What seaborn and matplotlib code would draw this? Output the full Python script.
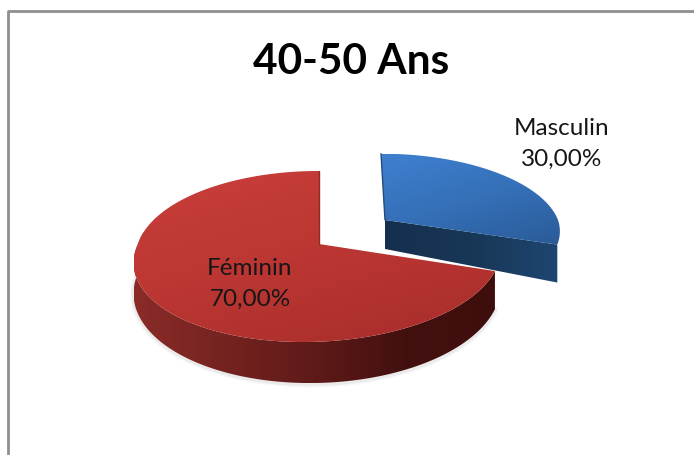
#!/usr/bin/env python3
import numpy as np
import matplotlib
matplotlib.use("Agg")
import matplotlib.pyplot as plt
from matplotlib.patches import Polygon
import seaborn as sns

# --- DATA ---
TITLE = "40-50 Ans"
labels = ["Masculin", "Féminin"]
values = [30.0, 70.0]

# --- LOOK OF THE FAKE 3D PIE (pixel space of the figure) ---
W, H = 694, 455
BLUE = dict(cx=385, cy=220, b=173, a=76, k=0.146, shear_up=0.06, shear_down=0.0,
            d0=29, dy=0.0, dx=0.052)
RED = dict(cx=319, cy=244, b=181, a=83.7, k=0.146, shear_up=0.0, shear_down=-0.16,
           d0=32.4, dy=0.0904, dx=0.0181)
LABEL_POS = [(562, 144), (250, 284)]

sns.set_theme(style="white")
plt.rcParams["font.family"] = ["Lato", "DejaVu Sans"]


def project(geo, t):
    """Pie angle (clockwise from 12 o'clock, radians) to top face pixels."""
    denom = 1 + geo["k"] * np.cos(t)
    dy = -geo["a"] * np.cos(t) / denom
    dx = geo["b"] * np.sin(t) / denom
    dx = dx + np.where(dy < 0, geo["shear_up"] * dy, geo["shear_down"] * dy)
    return geo["cx"] + dx, geo["cy"] + dy


def depth(geo, x, y):
    return geo["d0"] + geo["dy"] * (y - geo["cy"]) + geo["dx"] * (x - geo["cx"])


def gradient_fill(ax, pts, colors, angle, zorder):
    """Fill a polygon with a linear gradient, angle in degrees."""
    patch = Polygon(pts, closed=True, fc="none", ec="none", zorder=zorder)
    ax.add_patch(patch)
    x0, y0 = pts.min(axis=0)
    x1, y1 = pts.max(axis=0)
    gx, gy = np.meshgrid(np.linspace(0, 1, 200), np.linspace(0, 1, 200))
    r = np.radians(angle)
    ramp = gx * np.cos(r) + gy * np.sin(r)
    cmap = sns.blend_palette(colors, as_cmap=True)
    im = ax.imshow(ramp, extent=(x0, x1, y1, y0), origin="upper", cmap=cmap,
                   aspect="auto", zorder=zorder, interpolation="bilinear")
    im.set_clip_path(patch)


def slice_top(geo, t0, t1):
    t = np.linspace(t0, t1, 200)
    x, y = project(geo, t)
    return np.vstack([[geo["cx"], geo["cy"]], np.column_stack([x, y])])


def rim_strip(geo, t0, t1):
    t = np.linspace(t0, t1, 200)
    x, y = project(geo, t)
    top = np.column_stack([x, y])
    low = np.column_stack([x, y + depth(geo, x, y)])
    return top, low


# Slice angles come from the values, starting at 12 o'clock
sweeps = np.cumsum([0.0] + values) / sum(values) * 2 * np.pi
blue_t0, blue_t1 = sweeps[0], sweeps[1]
red_t0, red_t1 = sweeps[1], sweeps[2]

fig, ax = plt.subplots(figsize=(W / 100, H / 100), dpi=100)
fig.subplots_adjust(0, 0, 1, 1)
ax.set_facecolor("white")

# chart frame, open at the bottom and on the right
ax.plot([8, 8, W + 5], [H + 5, 11, 11], color="#8f8f8f", lw=2.0, zorder=1)

# blue slice, behind the red one
end_x, end_y = project(BLUE, blue_t1)
cx, cy = BLUE["cx"], BLUE["cy"]
front = np.array([[cx, cy], [end_x, end_y],
                  [end_x, end_y + depth(BLUE, end_x, end_y)],
                  [cx, cy + depth(BLUE, cx, cy)]])
gradient_fill(ax, front, ["#15304f", "#183655", "#1e4672"], 0, 4)
blue_top = slice_top(BLUE, blue_t0, blue_t1)
gradient_fill(ax, blue_top, ["#3f80cf", "#3570b8", "#2a5b98"], 60, 5)
ax.plot(blue_top[:2, 0], blue_top[:2, 1], color="#234c7c", lw=1.0, zorder=6)

# red slice
top, low = rim_strip(RED, red_t0, 1.5 * np.pi + 0.15)
# soft shadow under the rim
for lw, al in [(5, 0.04), (3, 0.08)]:
    ax.plot(low[:, 0], low[:, 1] + 1, color="#555555", lw=lw, alpha=al, zorder=6,
            solid_capstyle="round")
gradient_fill(ax, np.vstack([top, low[::-1]]),
              ["#8a2b28", "#752320", "#5e1a18", "#431010", "#3e0e0c"], 0, 7)
red_top = slice_top(RED, red_t0, red_t1)
gradient_fill(ax, red_top, ["#c93e3a", "#bb3632", "#a72d2b"], 60, 8)
ax.plot(red_top[[0, -1], 0], red_top[[0, -1], 1], color="#8e2a27", lw=1.0, zorder=9)

# texts
ax.text(351, 62, TITLE, ha="center", va="center", fontsize=30.5, fontweight="bold",
        color="black", zorder=10)
for lab, val, (x, y) in zip(labels, values, LABEL_POS):
    txt = f"{lab}\n{val:.2f}%".replace(".", ",")
    ax.text(x, y, txt, ha="center", va="center", fontsize=17.5, linespacing=1.62,
            color="#161616", zorder=10)

ax.set_xlim(0, W)
ax.set_ylim(H, 0)
ax.axis("off")
fig.savefig("out.png", dpi=100)
